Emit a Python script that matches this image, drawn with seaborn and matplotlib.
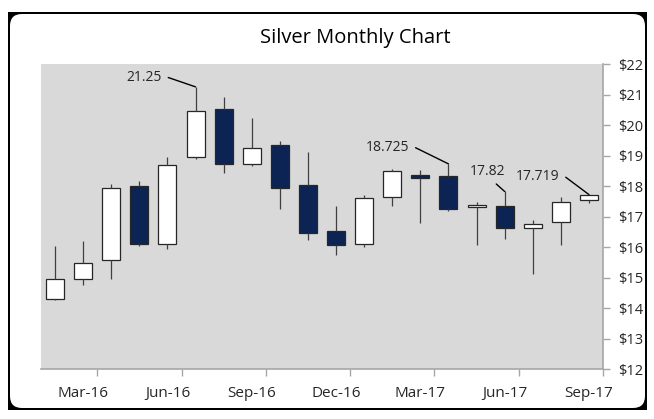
import numpy as np
import pandas as pd
import matplotlib.pyplot as plt
import seaborn as sns
from matplotlib.patches import Rectangle, FancyBboxPatch
from matplotlib.ticker import FixedLocator, FuncFormatter

# monthly silver OHLC
months = ["Feb-16", "Mar-16", "Apr-16", "May-16", "Jun-16", "Jul-16", "Aug-16",
          "Sep-16", "Oct-16", "Nov-16", "Dec-16", "Jan-17", "Feb-17", "Mar-17",
          "Apr-17", "May-17", "Jun-17", "Jul-17", "Aug-17", "Sep-17"]
opens = [14.29, 14.94, 15.56, 17.99, 16.11, 18.94, 20.52, 18.73, 19.35, 18.02,
         16.52, 16.09, 17.63, 18.37, 18.34, 17.30, 17.35, 16.61, 16.83, 17.54]
highs = [16.03, 16.21, 18.08, 18.17, 18.96, 21.25, 20.93, 20.24, 19.46, 19.12,
         17.36, 17.70, 18.55, 18.54, 18.725, 17.48, 17.82, 16.87, 17.64, 17.719]
lows = [14.25, 14.77, 14.94, 16.03, 15.95, 18.88, 18.44, 18.65, 17.23, 16.22,
        15.75, 16.00, 17.34, 16.80, 17.18, 16.06, 16.26, 15.13, 16.08, 17.44]
closes = [14.95, 15.49, 17.92, 16.10, 18.68, 20.46, 18.71, 19.23, 17.92, 16.47,
          16.05, 17.62, 18.48, 18.26, 17.26, 17.37, 16.62, 16.77, 17.48, 17.70]

callout_months = ["Jul-16", "Apr-17", "Jun-17", "Sep-17"]
callout_labels = ["21.25", "18.725", "17.82", "17.719"]
label_months = ["Mar-16", "Jun-16", "Sep-16", "Dec-16", "Mar-17", "Jun-17", "Sep-17"]
price_ticks = [12, 13, 14, 15, 16, 17, 18, 19, 20, 21, 22]

# long table for boxplot: box = open/close body, whiskers = high/low
rows = []
for m, o, h, l, c in zip(months, opens, highs, lows, closes):
    b, t = min(o, c), max(o, c)
    d = "up" if c >= o else "down"
    for v in [l, b, b, b, t, t, t, h]:
        rows.append({"month": m, "price": v, "dir": d})
df = pd.DataFrame(rows)

sns.set_style("white")
plt.rcParams["font.family"] = ["Open Sans", "DejaVu Sans"]

fig = plt.figure(figsize=(6.54, 4.19), dpi=100)

# outer frame with rounded inner corners
fig.patches.append(Rectangle((0.08, 0.09), 6.39, 3.98, transform=fig.dpi_scale_trans,
                             facecolor="black", edgecolor="none", zorder=-3))
fig.patches.append(FancyBboxPatch((0.10, 0.11), 6.35, 3.94, transform=fig.dpi_scale_trans,
                                  boxstyle="round,pad=0,rounding_size=0.12",
                                  facecolor="white", edgecolor="none", zorder=-2))

ax = fig.add_axes([41 / 654, 1 - 369 / 419, (603 - 41) / 654, (369 - 64) / 419])
ax.set_facecolor("#D9D9D9")

sns.boxplot(data=df, x="month", y="price", hue="dir", order=months,
            palette={"up": "white", "down": "#002060"}, dodge=False, width=0.64,
            whis=(0, 100), showcaps=False, linecolor="#262626", linewidth=0.9,
            whiskerprops=dict(color="#404040"), medianprops=dict(linewidth=0),
            legend=False, ax=ax)

ax.set_xlim(-0.5, len(months) - 0.5)
ax.set_ylim(12, 22)
ax.set_xlabel("")
ax.set_ylabel("")

# x: tick marks on category boundaries, labels on every 3rd month
pos = {m: i for i, m in enumerate(months)}
ax.xaxis.set_major_locator(FixedLocator([pos[m] + 0.5 for m in label_months]))
ax.xaxis.set_minor_locator(FixedLocator([pos[m] for m in label_months]))
ax.set_xticklabels([], minor=False)
ax.set_xticklabels(label_months, minor=True)
ax.tick_params(axis="x", which="major", bottom=True, length=5, width=1, color="#A6A6A6", direction="out")
ax.tick_params(axis="x", which="minor", length=0, pad=12, labelsize=11, labelcolor="#262626")

# y on the right
ax.yaxis.tick_right()
ax.set_yticks(price_ticks)
ax.yaxis.set_major_formatter(FuncFormatter(lambda v, p: f"${v:.0f}"))
ax.tick_params(axis="y", right=True, length=5, width=1, color="#A6A6A6", pad=6,
               labelsize=10.5, labelcolor="#262626", direction="out")

for s in ["left", "top"]:
    ax.spines[s].set_visible(False)
for s in ["right", "bottom"]:
    ax.spines[s].set_visible(True)
    ax.spines[s].set_color("#A6A6A6")
    ax.spines[s].set_linewidth(1.2)

# callout labels with leader lines
offsets = [(-24, 7), (-28, 12), (-12.5, 14.5), (-21, 13)]
relpos = [(1, 0.5), (1, 0.5), (0.45, 0), (1, 0.5)]
for m, lab, off, rp in zip(callout_months, callout_labels, offsets, relpos):
    i = pos[m]
    h = "right" if rp[0] == 1 else "center"
    ax.annotate(lab, xy=(i, highs[i]), xytext=off, textcoords="offset points",
                ha=h, va="center", fontsize=10, color="#262626",
                arrowprops=dict(arrowstyle="-", color="black", lw=1, shrinkA=2, shrinkB=0,
                                relpos=rp,
                                connectionstyle="arc,angleA=0,armA=5,angleB=0,armB=0,rad=0"))

fig.text(355 / 654, 1 - 38 / 419, "Silver Monthly Chart", ha="center", va="center",
         fontsize=14.5, color="black")

plt.savefig("out.png", dpi=100)
